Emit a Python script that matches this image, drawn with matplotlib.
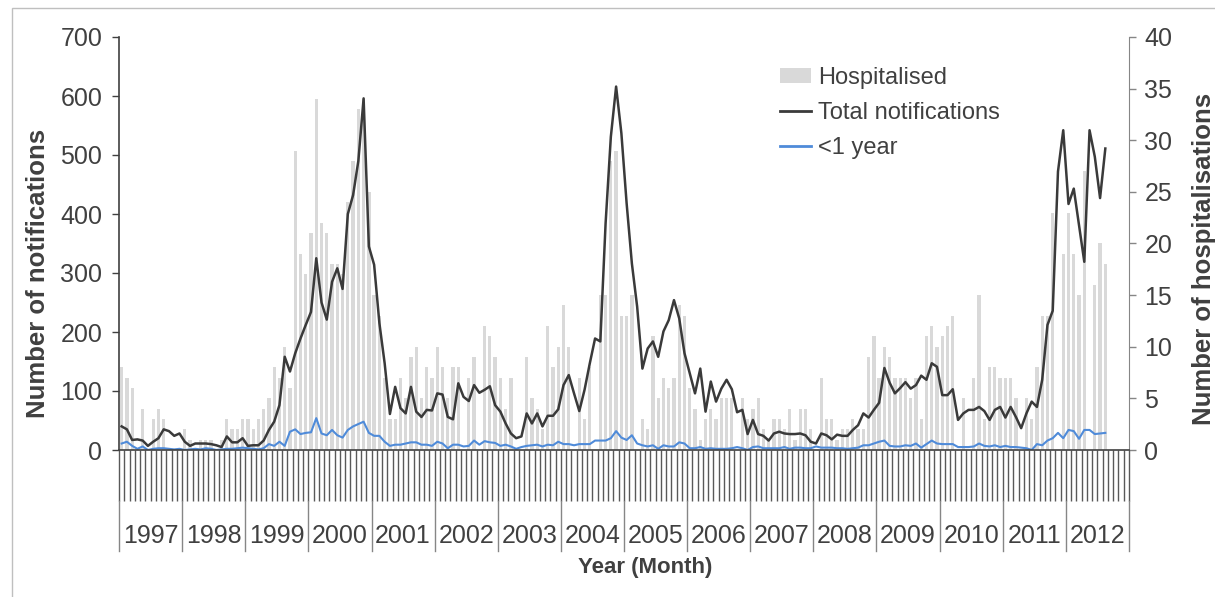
import numpy as np
import matplotlib.pyplot as plt
from matplotlib.lines import Line2D
from matplotlib.patches import Patch, Rectangle

plt.rcParams['font.family'] = ['Liberation Sans', 'DejaVu Sans']

years = [str(y) for y in range(1997, 2013)]

# monthly counts from Jan 1997 to Aug 2012
hospitalised = [
    8, 7, 6, 0, 4, 0, 3, 4, 3, 0, 0, 0,
    2, 1, 0, 1, 1, 1, 0, 1, 3, 2, 2, 3,
    3, 2, 3, 4, 5, 8, 7, 10, 6, 29, 19, 17,
    21, 34, 22, 21, 18, 18, 17, 24, 28, 33, 34, 25,
    15, 13, 7, 3, 3, 7, 5, 9, 10, 5, 8, 7,
    10, 8, 5, 8, 8, 0, 7, 9, 0, 12, 11, 9,
    7, 4, 7, 0, 0, 9, 5, 4, 2, 12, 8, 10,
    14, 10, 0, 7, 3, 8, 0, 15, 15, 28, 29, 13,
    13, 15, 0, 3, 2, 11, 5, 7, 6, 7, 14, 13,
    6, 4, 1, 3, 4, 3, 5, 5, 5, 0, 5, 3,
    4, 5, 2, 1, 3, 3, 2, 4, 1, 4, 4, 2,
    0, 7, 3, 3, 1, 2, 2, 3, 2, 2, 9, 11,
    7, 10, 9, 7, 7, 7, 5, 7, 3, 11, 12, 10,
    11, 12, 13, 0, 5, 0, 7, 15, 3, 8, 8, 7,
    7, 7, 5, 0, 5, 3, 8, 13, 13, 23, 0, 19,
    23, 19, 15, 27, 0, 16, 20, 18,
]

total_notifications = [
    40, 35, 17, 18, 16, 7, 14, 20, 35, 32, 24, 28,
    14, 7, 11, 11, 11, 10, 8, 5, 23, 13, 13, 20,
    7, 8, 8, 16, 34, 48, 76, 158, 133, 164, 189, 212,
    234, 325, 250, 221, 285, 308, 273, 400, 432, 490, 596, 345,
    314, 215, 147, 61, 107, 71, 62, 107, 65, 56, 68, 67,
    96, 94, 56, 52, 113, 90, 83, 110, 97, 102, 108, 76,
    65, 45, 28, 20, 23, 62, 45, 62, 40, 58, 58, 69,
    110, 127, 96, 66, 102, 147, 189, 184, 384, 531, 616, 537,
    418, 316, 243, 138, 172, 184, 158, 201, 220, 254, 223, 164,
    130, 96, 138, 65, 116, 82, 104, 119, 103, 64, 68, 27,
    51, 27, 24, 16, 28, 31, 28, 27, 27, 28, 25, 14,
    11, 28, 25, 18, 26, 24, 24, 34, 42, 62, 55, 68,
    80, 139, 114, 96, 105, 115, 104, 110, 126, 119, 147, 141,
    93, 93, 103, 51, 62, 68, 68, 73, 66, 51, 68, 73,
    55, 73, 56, 37, 62, 82, 73, 119, 212, 236, 472, 542,
    417, 443, 381, 319, 542, 497, 427, 511,
]

under_one_year = [
    11, 14, 7, 2, 6, 0, 2, 3, 3, 2, 1, 2,
    0, 1, 2, 1, 3, 2, 0, 1, 2, 2, 3, 4,
    3, 2, 1, 3, 10, 7, 14, 7, 31, 35, 27, 29,
    30, 54, 28, 25, 34, 25, 21, 34, 40, 44, 48, 29,
    24, 24, 14, 7, 9, 9, 11, 13, 13, 9, 9, 7,
    14, 11, 3, 9, 9, 6, 7, 16, 9, 15, 13, 12,
    7, 9, 6, 2, 5, 7, 8, 9, 6, 9, 8, 14,
    10, 10, 8, 10, 10, 10, 16, 16, 16, 20, 32, 21,
    17, 25, 11, 8, 6, 8, 2, 8, 6, 6, 13, 11,
    3, 3, 5, 2, 3, 2, 2, 2, 3, 5, 3, 0,
    5, 6, 3, 3, 3, 3, 5, 2, 4, 4, 3, 3,
    6, 4, 4, 4, 3, 3, 2, 3, 4, 8, 8, 11,
    14, 16, 7, 6, 6, 8, 7, 11, 4, 10, 16, 11,
    10, 10, 10, 5, 5, 5, 6, 11, 7, 6, 8, 5,
    7, 5, 5, 4, 3, 0, 10, 8, 16, 20, 29, 20,
    34, 32, 19, 34, 34, 27, 28, 29,
]

n_months = len(years) * 12
x = np.arange(len(total_notifications)) + 0.5

W, H = 1215, 597
fig = plt.figure(figsize=(W / 100, H / 100), dpi=100)

# outer chart frame
fig.patches.append(Rectangle((12 / W, -0.05), 1.1, 1.05 - 8 / H, transform=fig.transFigure,
                             fill=False, edgecolor='#BFBFBF', lw=1))

ax = fig.add_axes([119 / W, 1 - 450 / H, (1129 - 119) / W, 413 / H])
ax2 = ax.twinx()
ax.set_zorder(ax2.get_zorder() + 1)
ax.patch.set_visible(False)

ax2.bar(np.arange(len(hospitalised)) + 0.5, hospitalised, width=0.62, color='#D9D9D9')
ax.plot(x, total_notifications, color='#3A3A3A', lw=1.8)
ax.plot(x, under_one_year, color='#4F8BD9', lw=1.5)

ax.set_xlim(0, n_months)
ax.set_ylim(0, 700)
ax2.set_ylim(0, 40)
ax.set_yticks(range(0, 701, 100))
ax2.set_yticks(range(0, 41, 5))

txt = '#404040'
for a in (ax, ax2):
    a.spines['top'].set_visible(False)
ax.spines['left'].set_color('#404040')
ax.spines['left'].set_linewidth(1.2)
ax.spines['right'].set_visible(False)
ax.spines['bottom'].set_color('#404040')
ax.spines['bottom'].set_linewidth(1.2)
ax2.spines['left'].set_visible(False)
ax2.spines['bottom'].set_visible(False)
ax2.spines['right'].set_color('#868686')

ax.tick_params(axis='y', length=5, width=1, color='#404040', labelsize=18,
               labelcolor=txt, pad=7)
ax2.tick_params(axis='y', length=5, width=1, color='#868686', labelsize=18,
                labelcolor=txt, pad=6)

# one tick per month, no month labels
ax.set_xticks(np.arange(0, n_months + 1))
ax.set_xticklabels([])
ax.tick_params(axis='x', length=37, width=1, color='#595959')

# year band under the month ticks
trans = ax.get_xaxis_transform()
for k in range(len(years) + 1):
    ax.plot([k * 12, k * 12], [-51 / 413, -101 / 413], transform=trans,
            color='#868686', lw=1, clip_on=False)
for k, yr in enumerate(years):
    ax.text(k * 12 + 6, -86 / 413, yr, transform=trans, ha='center', va='center',
            fontsize=18, color=txt)

fig.text(645 / W, 1 - 567 / H, 'Year (Month)', ha='center', va='center',
         fontsize=16, fontweight='bold', color=txt)
fig.text(38 / W, 1 - 273 / H, 'Number of notifications', rotation=90, ha='center',
         va='center', fontsize=18.5, fontweight='bold', color=txt)
fig.text(1204 / W, 1 - 259 / H, 'Number of hospitalisations', rotation=90, ha='center',
         va='center', fontsize=18.5, fontweight='bold', color=txt)

handles = [Patch(facecolor='#D9D9D9', edgecolor='none'),
           Line2D([], [], color='#3A3A3A', lw=2),
           Line2D([], [], color='#4F8BD9', lw=2)]
labels = ['Hospitalised', 'Total notifications', '<1 year']
leg = ax.legend(handles, labels, loc='upper left', bbox_to_anchor=(780 / W, 1 - 67 / H),
                bbox_transform=fig.transFigure, frameon=False, fontsize=17,
                labelspacing=0.55, handlelength=1.3, handleheight=0.6,
                handletextpad=0.3, borderpad=0, borderaxespad=0)
for t in leg.get_texts():
    t.set_color(txt)

fig.savefig('out.png', dpi=100)
